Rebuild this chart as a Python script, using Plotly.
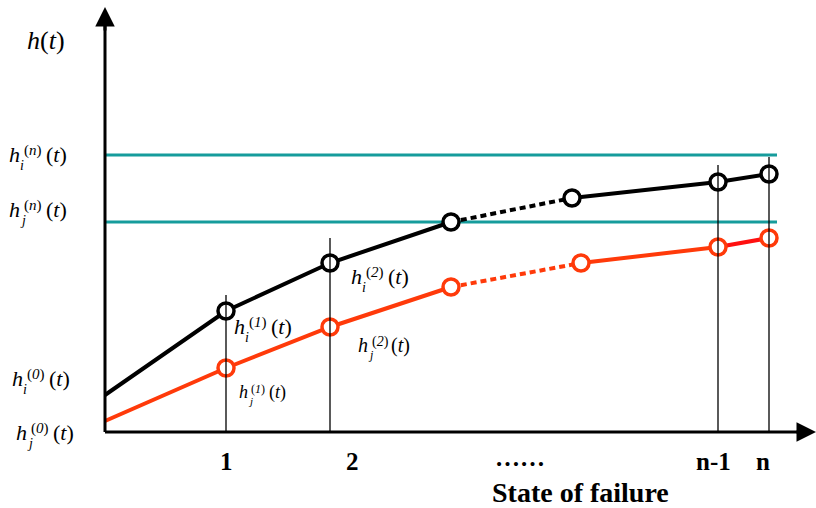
import plotly.graph_objects as go

# ---- data (units: x = distance along the failure-state axis, y = hazard level) ----
state_labels = ["1", "2", "……", "n-1", "n"]
state_label_x = [121, 247, 415, 608, 658]

black_x = [0, 121, 225, 346, 467, 613, 664]
black_y = [37, 121, 169, 210, 234, 250, 258]

red_x = [0, 121, 225, 346, 476, 613, 664]
red_y = [11, 64, 105, 145, 169, 185, 194]

limit_i = 277   # h_i^(n)(t)
limit_j = 210   # h_j^(n)(t)
limit_x_end = 672

vert_x = [121, 225, 613, 664]
vert_top = [137, 194, 267, 275]

BLACK = "#000000"
RED = "#FF3A0A"
RED2 = "#FF1010"
TEAL = "#169C9C"
FONT = "'Liberation Serif', 'Times New Roman', Times, serif"

fig = go.Figure()

for lv in [limit_i, limit_j]:
    fig.add_trace(go.Scatter(x=[0, limit_x_end], y=[lv, lv], mode="lines",
                             line=dict(color=TEAL, width=3), hoverinfo="skip"))

def add_series(xs, ys, color, last_color):
    fig.add_trace(go.Scatter(x=xs[0:4], y=ys[0:4], mode="lines",
                             line=dict(color=color, width=4)))
    fig.add_trace(go.Scatter(x=xs[3:5], y=ys[3:5], mode="lines",
                             line=dict(color=color, width=4, dash="6px,4px")))
    fig.add_trace(go.Scatter(x=xs[4:6], y=ys[4:6], mode="lines",
                             line=dict(color=color, width=4)))
    fig.add_trace(go.Scatter(x=xs[5:7], y=ys[5:7], mode="lines",
                             line=dict(color=last_color, width=4)))
    fig.add_trace(go.Scatter(x=xs[1:], y=ys[1:], mode="markers",
                             marker=dict(size=16, color="white",
                                         line=dict(color=color, width=3.5))))

add_series(black_x, black_y, BLACK, BLACK)
add_series(red_x, red_y, RED, RED2)

for vx, vt in zip(vert_x, vert_top):
    fig.add_trace(go.Scatter(x=[vx, vx], y=[0, vt], mode="lines",
                             line=dict(color=BLACK, width=1.3)))

fig.add_trace(go.Scatter(x=[0, 0], y=[0, 410], mode="lines", line=dict(color=BLACK, width=3)))
fig.add_trace(go.Scatter(x=[0, 700], y=[0, 0], mode="lines", line=dict(color=BLACK, width=3)))

ann = []
ann.append(dict(x=0, y=425, ax=0, ay=400, axref="x", ayref="y", xref="x", yref="y",
                showarrow=True, arrowhead=2, arrowsize=1.3, arrowwidth=3, arrowcolor=BLACK, text=""))
ann.append(dict(x=711, y=0, ax=690, ay=0, axref="x", ayref="y", xref="x", yref="y",
                showarrow=True, arrowhead=2, arrowsize=1.3, arrowwidth=3, arrowcolor=BLACK, text=""))


def txt(x, y, text, size, xanchor="left", xshift=0, yshift=0):
    ann.append(dict(x=x, y=y, xref="x", yref="y", text=text, showarrow=False,
                    xanchor=xanchor, yanchor="middle", xshift=xshift, yshift=yshift,
                    font=dict(family=FONT, size=size, color="black")))


def hlabel(x, y, sub, sup, s):
    txt(x, y, "<i>h</i>", s)
    txt(x, y, "<i>%s</i>" % sub, round(s * 0.62), xshift=0.48 * s, yshift=-0.5 * s)
    txt(x, y, "(<i>%s</i>)" % sup, round(s * 0.68), xshift=0.68 * s, yshift=0.17 * s)
    txt(x, y, "(<i>t</i>)", s, xshift=1.66 * s)


txt(-80, 392, "<i>h</i>(<i>t</i>)", 26)
hlabel(-98, 278, "i", "n", 22)
hlabel(-98, 223, "j", "n", 22)
hlabel(-95, 54, "i", "0", 22)
hlabel(-91, 0, "j", "0", 22)
hlabel(127, 106, "i", "1", 22)
hlabel(132, 40, "j", "1", 18)
hlabel(244, 156, "i", "2", 22)
hlabel(251, 87, "j", "2", 20)

for lx, lt in zip(state_label_x, state_labels):
    ann.append(dict(x=lx, y=-29 if lt != "……" else -25, xref="x", yref="y", text="<b>%s</b>" % lt,
                    showarrow=False, xanchor="center", yanchor="middle",
                    font=dict(family=FONT, size=25, color="black")))
ann.append(dict(x=475, y=-60, xref="x", yref="y", text="<b>State of failure</b>",
                showarrow=False, xanchor="center", yanchor="middle",
                font=dict(family=FONT, size=28, color="black")))

fig.update_layout(
    width=816, height=508,
    margin=dict(l=0, r=0, t=0, b=0),
    paper_bgcolor="white", plot_bgcolor="white",
    showlegend=False,
    font=dict(family=FONT),
    xaxis=dict(range=[-105, 711], visible=False, fixedrange=True),
    yaxis=dict(range=[-76, 432], visible=False, fixedrange=True),
    annotations=ann,
)

fig.write_html("out.html")
